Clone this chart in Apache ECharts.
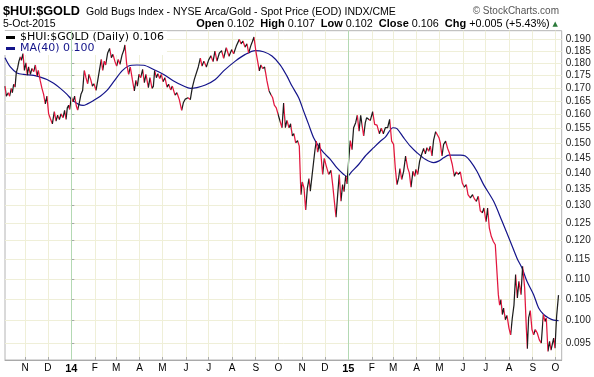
<!DOCTYPE html>
<html>
<head>
<meta charset="utf-8">
<script src="https://cdn.jsdelivr.net/npm/echarts@6/dist/echarts.min.js"></script>
<style>
  html, body { margin: 0; padding: 0; background: #fff; }
  #chart { width: 594px; height: 377px; }
</style>
</head>
<body>
<div id="chart"></div>
<script>
const DAY = 86400000
const BASE = Date.UTC(2014, 0, 1)

// x positions are days counted from 1 Jan 2014
const priceDays = [
  -87.4, -85.7, -83.0, -81.3, -79.1, -77.7, -76.0, -74.2, -72.5, -70.7, -69.0, -67.2, -65.9, -63.7, -61.9, -59.7,
  -58.0, -56.2, -54.0, -51.8, -49.6, -47.4, -45.2, -43.5, -40.9, -38.7, -36.5, -34.3, -32.1, -29.9, -27.7, -25.0,
  -22.4, -20.2, -18.0, -15.8, -13.6, -11.0, -8.8, -7.0, -5.3, -3.5, -2.2, 0, 2.2, 4.4, 6.6, 8.3,
  10.5, 12.7, 14.9, 17.1, 19.3, 21.5, 23.3, 25.5, 27.7, 29.9, 32.5, 34.7, 36.9, 39.5, 41.3, 43.5,
  45.2, 47.9, 50.5, 52.7, 54.9, 57.5, 59.7, 61.9, 64.1, 66.8, 69.0, 70.7, 72.9, 75.5, 77.7, 80.4,
  83.0, 85.2, 87.0, 89.2, 91.4, 94.0, 96.2, 98.4, 101.5, 103.7, 106.3, 108.1, 109.8, 112.0, 114.2, 116.4,
  118.6, 120.8, 123.4, 126.1, 128.3, 130.9, 133.1, 136.6, 139.2, 142.3, 145.4, 147.6, 150.2, 153.7, 156.8, 159.4,
  162.1, 164.7, 167.3, 170.0, 172.2, 174.8, 177.9, 181.0, 184.0, 186.7, 189.3, 191.9, 195.0, 198.1, 200.7, 204.2,
  207.8, 211.3, 213.9, 217.4, 221.4, 223.6, 226.2, 228.8, 231.5, 233.7, 236.3, 238.5, 240.7, 243.3, 245.5, 247.7,
  249.9, 252.1, 254.8, 257.8, 260.5, 263.1, 265.3, 267.5, 270.1, 272.8,
  275.4, 277.6, 279.8, 282.0, 284.2, 286.8, 289.0, 291.2, 293.4, 295.6, 298.2, 300.4, 302.6, 304.4, 306.6, 308.8,
  311.0, 313.2, 314.9, 317.1, 319.3, 321.1, 322.8, 324.6, 327.2, 329.0, 331.2, 333.4, 335.6, 339.1, 342.2, 344.4,
  346.6, 348.8, 351.0, 353.1, 355.3, 357.5, 359.3, 361.5, 363.2, 365.4, 367.6, 369.8, 372.0, 374.7, 376.9, 379.1,
  381.3, 383.5, 385.2, 387.4, 389.2, 391.8, 394.0, 397.1, 399.7, 402.8, 405.9, 408.5, 411.1, 413.8, 416.8, 419.5,
  422.1, 424.7, 426.9, 429.1, 431.3, 433.1, 435.3, 437.9, 440.5, 443.2, 445.4, 447.6, 450.2, 452.4, 454.2, 456.4,
  459.0, 461.6, 464.3, 466.5, 468.7, 470.9, 473.1, 475.2, 477.4, 480.1, 482.3, 484.5, 486.2, 488.4, 490.6, 493.3,
  495.9, 498.1, 500.3, 502.0, 504.7, 507.3, 509.9, 512.6, 515.2, 517.9, 520.5, 522.7, 525.8, 528.8, 531.0, 533.7,
  536.3, 538.9, 541.6, 543.8, 546.4, 548.6, 550.8, 553.4, 556.1, 558.7, 560.9, 562.7, 564.4, 566.2, 567.9, 569.7,
  571.9, 574.1, 576.7, 578.9, 581.1, 583.3, 585.5, 587.7, 589.9, 592.5, 594.7, 597.4, 599.6, 600.9, 602.6, 604.8,
  607.0, 609.2, 611.4, 614.0, 616.7, 619.3, 622.0, 624.1, 625.9, 628.1, 630.3, 632.1, 633.8, 635.6, 637.3, 639.5,
  642
]
const prices = [
  0.1708, 0.1669, 0.1682, 0.1669, 0.1699, 0.1682, 0.1715, 0.1704, 0.1761, 0.1781, 0.1808, 0.1825, 0.1811, 0.1839, 0.1770, 0.1801,
  0.1751, 0.1784, 0.1754, 0.1778, 0.1765, 0.1792, 0.1747, 0.1770, 0.1728, 0.1699, 0.1676, 0.1640, 0.1669, 0.1603, 0.1586, 0.1567,
  0.1611, 0.1577, 0.1598, 0.1582, 0.1603, 0.1589, 0.1616, 0.1583, 0.1625, 0.1635, 0.1619, 0.1667, 0.1648, 0.1669, 0.1632, 0.1617,
  0.1644, 0.1676, 0.1691, 0.1770, 0.1741, 0.1717, 0.1754, 0.1734, 0.1708, 0.1717, 0.1691, 0.1728, 0.1768, 0.1815, 0.1770, 0.1808,
  0.1792, 0.1842, 0.1861, 0.1822, 0.1836, 0.1806, 0.1788, 0.1815, 0.1795, 0.1833, 0.1852, 0.1876, 0.1797, 0.1754, 0.1784, 0.1734,
  0.1689, 0.1730, 0.1708, 0.1754, 0.1741, 0.1774, 0.1721, 0.1754, 0.1702, 0.1741, 0.1699, 0.1707, 0.1770, 0.1741, 0.1757, 0.1738,
  0.1754, 0.1725, 0.1741, 0.1704, 0.1715, 0.1693, 0.1708, 0.1673, 0.1682, 0.1656, 0.1616, 0.1644, 0.1658, 0.1663, 0.1656, 0.1702,
  0.1734, 0.1741, 0.1784, 0.1820, 0.1788, 0.1808, 0.1784, 0.1813, 0.1830, 0.1806, 0.1850, 0.1808, 0.1841, 0.1852, 0.1820, 0.1864,
  0.1828, 0.1856, 0.1839, 0.1871, 0.1900, 0.1881, 0.1893, 0.1867, 0.1881, 0.1841, 0.1871, 0.1890, 0.1910, 0.1847, 0.1808, 0.1768,
  0.1792, 0.1778, 0.1784, 0.1728, 0.1689, 0.1691, 0.1663, 0.1635, 0.1625, 0.1598,
  0.1603, 0.1553, 0.1643, 0.1553, 0.1579, 0.1553, 0.1567, 0.1524, 0.1532, 0.1500, 0.1508, 0.1489, 0.1333, 0.1372, 0.1354, 0.1287,
  0.1352, 0.1383, 0.1344, 0.1390, 0.1437, 0.1477, 0.1506, 0.1469, 0.1500, 0.1459, 0.1396, 0.1448, 0.1426, 0.1396, 0.1409, 0.1364,
  0.1313, 0.1266, 0.1333, 0.1396, 0.1313, 0.1364, 0.1342, 0.1391, 0.1366, 0.1439, 0.1508, 0.1477, 0.1553, 0.1571, 0.1598, 0.1541,
  0.1598, 0.1601, 0.1524, 0.1571, 0.1589, 0.1595, 0.1579, 0.1611, 0.1565, 0.1562, 0.1532, 0.1551, 0.1532, 0.1553, 0.1553, 0.1583,
  0.1506, 0.1495, 0.1417, 0.1364, 0.1385, 0.1415, 0.1380, 0.1406, 0.1456, 0.1417, 0.1401, 0.1356, 0.1406, 0.1390, 0.1412, 0.1396,
  0.1439, 0.1461, 0.1481, 0.1463, 0.1484, 0.1472, 0.1489, 0.1456, 0.1510, 0.1539, 0.1532, 0.1518, 0.1500, 0.1456, 0.1495, 0.1506,
  0.1481, 0.1467, 0.1463, 0.1428, 0.1390, 0.1404, 0.1396, 0.1404, 0.1369, 0.1356, 0.1364, 0.1333, 0.1323, 0.1333, 0.1321, 0.1313,
  0.1328, 0.1285, 0.1279, 0.1293, 0.1253, 0.1293, 0.1236, 0.1212, 0.1198, 0.1189, 0.1185, 0.1061, 0.1036, 0.1049, 0.1014, 0.1029,
  0.1002, 0.1012, 0.0983, 0.0968, 0.1006, 0.1036, 0.1111, 0.1053, 0.1094, 0.1061, 0.1132, 0.1077, 0.0983, 0.0938, 0.1006, 0.1023,
  0.0980, 0.0968, 0.0980, 0.0972, 0.0957, 0.0950, 0.1014, 0.0998, 0.1006, 0.0932, 0.0954, 0.0935, 0.0939, 0.0961, 0.0939, 0.1010,
  0.1060
]

const maDays = [
  -87.4, -80.4, -71.6, -62.8, -49.6, -40.9, -32.1, -23.3, -14.5, -5.7, 0.9, 9.7, 15.4, 20.6, 29.4, 38.2,
  47.0, 55.8, 66.8, 75.5, 86.5, 95.3, 108.5, 121.7, 134.8, 148.0, 156.8, 165.6, 176.6, 189.7, 200.7, 216.1,
  229.3, 242.4, 253.4, 264.4, 275.4, 284.2, 290.8, 299.6, 306.1, 312.7, 319.3, 325.9, 332.5, 341.3, 350.1, 358.9,
  363.2, 369.8, 378.6, 387.4, 398.4, 407.2, 413.8, 423.9, 429.1, 437.9, 446.7, 455.5, 466.5, 477.4, 484.0, 490.6,
  497.2, 512.6, 519.2, 525.8, 534.5, 543.3, 556.5, 567.5, 578.5, 587.3, 593.8, 600.4, 609.2, 615.8, 622.4, 629.0,
  635.6, 642
]
const maValues = [
  0.1822, 0.1784, 0.1760, 0.1754, 0.1750, 0.1743, 0.1734, 0.1719, 0.1699, 0.1676, 0.1655, 0.1638, 0.1634, 0.1639, 0.1653, 0.1669,
  0.1691, 0.1725, 0.1768, 0.1788, 0.1792, 0.1791, 0.1774, 0.1754, 0.1728, 0.1708, 0.1699, 0.1702, 0.1712, 0.1734, 0.1768, 0.1808,
  0.1836, 0.1852, 0.1847, 0.1829, 0.1792, 0.1747, 0.1708, 0.1663, 0.1613, 0.1565, 0.1518, 0.1489, 0.1467, 0.1445, 0.1417, 0.1396,
  0.1389, 0.1406, 0.1428, 0.1456, 0.1484, 0.1506, 0.1520, 0.1553, 0.1550, 0.1518, 0.1489, 0.1467, 0.1445, 0.1434, 0.1439, 0.1450,
  0.1459, 0.1459, 0.1456, 0.1439, 0.1406, 0.1364, 0.1313, 0.1255, 0.1198, 0.1153, 0.1128, 0.1094, 0.1061, 0.1029, 0.1014, 0.1006,
  0.1001, 0.1000
]

const monthTicks = [
  '2013-11-01', '2013-12-01', '2014-01-01', '2014-02-01', '2014-03-01', '2014-04-01', '2014-05-01', '2014-06-01',
  '2014-07-01', '2014-08-01', '2014-09-01', '2014-10-01', '2014-11-01', '2014-12-01', '2015-01-01', '2015-02-01',
  '2015-03-01', '2015-04-01', '2015-05-01', '2015-06-01', '2015-07-01', '2015-08-01', '2015-09-01', '2015-10-01'
]
const monthLabels = ['N', 'D', '14', 'F', 'M', 'A', 'M', 'J', 'J', 'A', 'S', 'O', 'N', 'D', '15', 'F', 'M', 'A', 'M', 'J', 'J', 'A', 'S', 'O']
const yearLines = ['2014-01-01', '2015-01-01']
const yTicks = [0.095, 0.100, 0.105, 0.110, 0.115, 0.120, 0.125, 0.130, 0.135, 0.140, 0.145, 0.150, 0.155, 0.160, 0.165, 0.170, 0.175, 0.180, 0.185, 0.190]

const UP = '#1e1e1e'
const DOWN = '#e2163e'
const MA = '#14148a'
const GRID = '#efefd8'
const AXIS = '#a9a9a9'

// date string -> day offset from 1 Jan 2014
const toDay = s => (Date.parse(s + 'T00:00:00Z') - BASE) / DAY
const monthDays = monthTicks.map(toDay)
const priceData = priceDays.map((d, i) => [d, prices[i]])
const maData = maDays.map((d, i) => [d, maValues[i]])

// black where the close rises, red where it falls
const pieces = []
for (let i = 1; i < prices.length; i++) {
  const color = prices[i] >= prices[i - 1] ? UP : DOWN
  const last = pieces[pieces.length - 1]
  if (last && last.color === color) last.lt = priceDays[i]
  else pieces.push({ gte: priceDays[i - 1], lt: priceDays[i], color })
}
const lastPiece = pieces[pieces.length - 1]
lastPiece.lte = lastPiece.lt
delete lastPiece.lt

const lastPrice = prices[prices.length - 1].toFixed(3)
const lastMa = maValues[maValues.length - 1].toFixed(3)

const chart = echarts.init(document.getElementById('chart'))
chart.setOption({
  animation: false,
  backgroundColor: '#fff',
  grid: { left: 5, right: 32.3, top: 30.7, bottom: 17, show: true, borderColor: '#b4b4b4', borderWidth: 1, backgroundColor: '#fff' },
  graphic: [
    { type: 'text', x: 3, y: 11.6, style: { text: '$HUI:$GOLD', fontFamily: 'Liberation Sans', fontWeight: 'bold', fontSize: 12.7, fill: '#000', verticalAlign: 'middle' } },
    { type: 'text', x: 86, y: 12.2, style: { text: 'Gold Bugs Index - NYSE Arca/Gold - Spot Price (EOD) INDX/CME', fontFamily: 'Liberation Sans', fontSize: 10.5, fill: '#000', verticalAlign: 'middle' } },
    { type: 'text', x: 559, y: 11.7, style: { text: '© StockCharts.com', align: 'right', fontFamily: 'Liberation Sans', fontSize: 10, fill: '#555', verticalAlign: 'middle' } },
    { type: 'text', x: 3, y: 24, style: { text: '5-Oct-2015', fontFamily: 'Liberation Sans', fontSize: 10.5, fill: '#000', verticalAlign: 'middle' } },
    {
      type: 'text', x: 558, y: 24,
      style: {
        text: '{b|Open} 0.102  {b|High} 0.107  {b|Low} 0.102  {b|Close} 0.106  {b|Chg} +0.005 (+5.43%) {t|▲}',
        align: 'right', verticalAlign: 'middle', fontFamily: 'Liberation Sans', fontSize: 10.8, fill: '#000',
        rich: {
          b: { fontFamily: 'Liberation Sans', fontWeight: 'bold', fontSize: 11, fill: '#000' },
          t: { fontFamily: 'DejaVu Sans', fontSize: 7, fill: '#2a7a3a' }
        }
      }
    }
  ],
  legend: {
    orient: 'vertical', left: 4, top: 31, padding: [1, 3, 1, 2], itemGap: 0,
    itemWidth: 9, itemHeight: 3, icon: 'rect', backgroundColor: '#fff',
    textStyle: { fontFamily: 'DejaVu Sans', fontSize: 11 },
    formatter: name => name + ' ' + (name === 'MA(40)' ? lastMa : lastPrice),
    data: [
      { name: '$HUI:$GOLD (Daily)', itemStyle: { color: '#000' }, textStyle: { color: '#000' } },
      { name: 'MA(40)', itemStyle: { color: MA }, textStyle: { color: MA } }
    ]
  },
  visualMap: { show: false, type: 'piecewise', seriesIndex: 0, dimension: 0, pieces, outOfRange: { color: UP } },
  xAxis: {
    type: 'value', min: -87.4, max: 646.2,
    axisLine: { lineStyle: { color: AXIS } },
    axisTick: { show: true, inside: true, length: 3, customValues: monthDays, lineStyle: { color: AXIS } },
    axisLabel: {
      customValues: monthDays, margin: 3, fontFamily: 'Liberation Sans', fontSize: 10, color: '#000',
      formatter: v => {
        const i = monthDays.indexOf(v)
        const s = i < 0 ? '' : monthLabels[i]
        return s.length === 2 ? '{y|' + s + '}' : s
      },
      rich: { y: { fontFamily: 'Liberation Sans', fontWeight: 'bold', fontSize: 11, color: '#000' } }
    },
    splitLine: { show: true, lineStyle: { color: GRID } }
  },
  yAxis: {
    type: 'log', position: 'right', min: 0.0914, max: 0.1938,
    axisLine: { show: true, lineStyle: { color: AXIS } },
    axisTick: { show: true, length: 3, customValues: yTicks, lineStyle: { color: AXIS } },
    axisLabel: { customValues: yTicks, margin: 4, formatter: v => v.toFixed(3), fontFamily: 'Liberation Sans', fontSize: 10, color: '#222' },
    splitLine: { show: true, lineStyle: { color: GRID } }
  },
  series: [
    {
      name: '$HUI:$GOLD (Daily)', type: 'line', data: priceData, symbol: 'none', showSymbol: false,
      lineStyle: { width: 1.25 }, itemStyle: { color: UP }, z: 4
    },
    {
      name: 'MA(40)', type: 'line', data: maData, smooth: 0.3, symbol: 'none', showSymbol: false,
      lineStyle: { width: 1.2, color: MA }, itemStyle: { color: MA }, z: 3
    },
    {
      type: 'line', data: [], z: 1,
      markLine: {
        silent: true, symbol: 'none', label: { show: false },
        lineStyle: { color: '#b3d9b3', type: 'solid', width: 1 },
        data: yearLines.map(s => ({ xAxis: toDay(s) }))
      }
    }
  ]
})
</script>
</body>
</html>
